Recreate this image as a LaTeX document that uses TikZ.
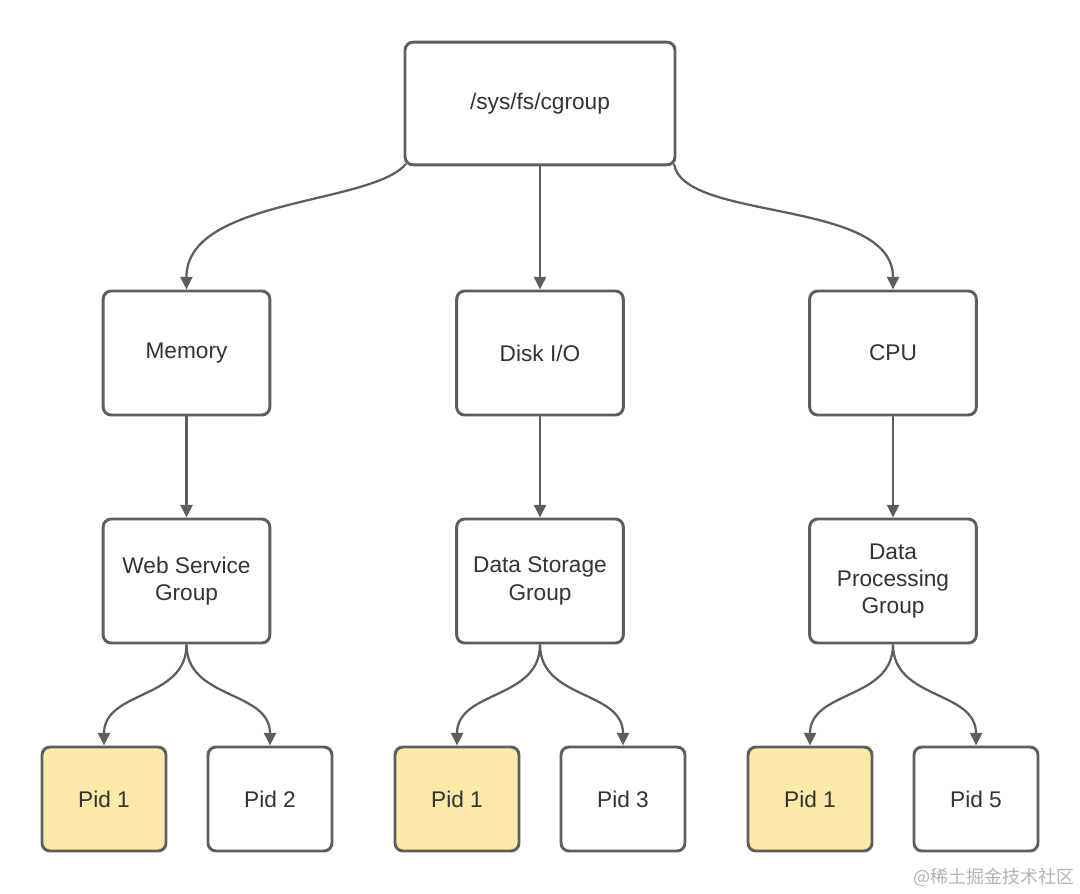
\documentclass[tikz,border=0pt]{standalone}
\usepackage{fontspec}
\setmainfont{Liberation Sans}
\newfontfamily\cjkfont{Noto Sans CJK SC}
\usetikzlibrary{arrows.meta}
\definecolor{linegray}{HTML}{5E5E5E}
\definecolor{txtgray}{HTML}{333333}
\definecolor{pidyellow}{HTML}{FAE9A7}
\definecolor{wmgray}{HTML}{B3B3B3}
\tikzset{
  box/.style={draw=linegray, line width=2.2pt, rounded corners=6pt, fill=white,
    text=txtgray, align=center, font=\fontsize{17}{20.5}\selectfont, inner sep=0pt},
  rootbox/.style={box, minimum width=202.5pt, minimum height=92pt},
  midbox/.style={box, minimum width=125pt, minimum height=93pt},
  pidbox/.style={box, minimum width=93pt, minimum height=78pt},
  hot/.style={fill=pidyellow},
  conn/.style={draw=linegray, line width=1.7pt, -{Triangle[length=9.5pt,width=9pt]}},
}
\begin{document}
\begin{tikzpicture}[x=0.75pt,y=-0.75pt]
\useasboundingbox (0,0) rectangle (1080,893);
\node[rootbox] (root) at (540,103.5) {/sys/fs/cgroup};
\node[midbox] (mem) at (186.5,353) {Memory};
\node[midbox] (disk) at (540,353) {Disk I/O};
\node[midbox] (cpu) at (893,353) {CPU};
\node[midbox] (web) at (186.5,581) {Web Service\\Group};
\node[midbox] (store) at (540,581) {Data Storage\\Group};
\node[midbox] (proc) at (893,581) {Data\\Processing\\Group};
\node[pidbox,hot] (p1a) at (104,799) {Pid 1};
\node[pidbox] (p2) at (270,799) {Pid 2};
\node[pidbox,hot] (p1b) at (457,799) {Pid 1};
\node[pidbox] (p3) at (623,799) {Pid 3};
\node[pidbox,hot] (p1c) at (810,799) {Pid 1};
\node[pidbox] (p5) at (976,799) {Pid 5};
\node[text=wmgray, font=\cjkfont\fontsize{13.5}{15}\selectfont, anchor=east, inner sep=0pt] (wm) at (1075,877) {@稀土掘金技术社区};
% root connectors
\coordinate (rsw) at ([shift={(2.5,-2.5)}]root.south west);
\coordinate (rse) at ([shift={(-2.5,-2.5)}]root.south east);
\draw[conn] (rsw) .. controls (372,205) and (186,198) .. (mem.north);
\draw[conn] (root.south) -- (disk.north);
\draw[conn] (rse) .. controls (683,222) and (893,198) .. (cpu.north);
% vertical
\draw[conn] (mem.south) -- (web.north);
\draw[conn] (disk.south) -- (store.north);
\draw[conn] (cpu.south) -- (proc.north);
% pid connectors
\draw[conn] (web.south) .. controls (186.5,700) and (104,690) .. (p1a.north);
\draw[conn] (web.south) .. controls (186.5,700) and (270,690) .. (p2.north);
\draw[conn] (store.south) .. controls (540,700) and (457,690) .. (p1b.north);
\draw[conn] (store.south) .. controls (540,700) and (623,690) .. (p3.north);
\draw[conn] (proc.south) .. controls (893,700) and (810,690) .. (p1c.north);
\draw[conn] (proc.south) .. controls (893,700) and (976,690) .. (p5.north);
\end{tikzpicture}
\end{document}
